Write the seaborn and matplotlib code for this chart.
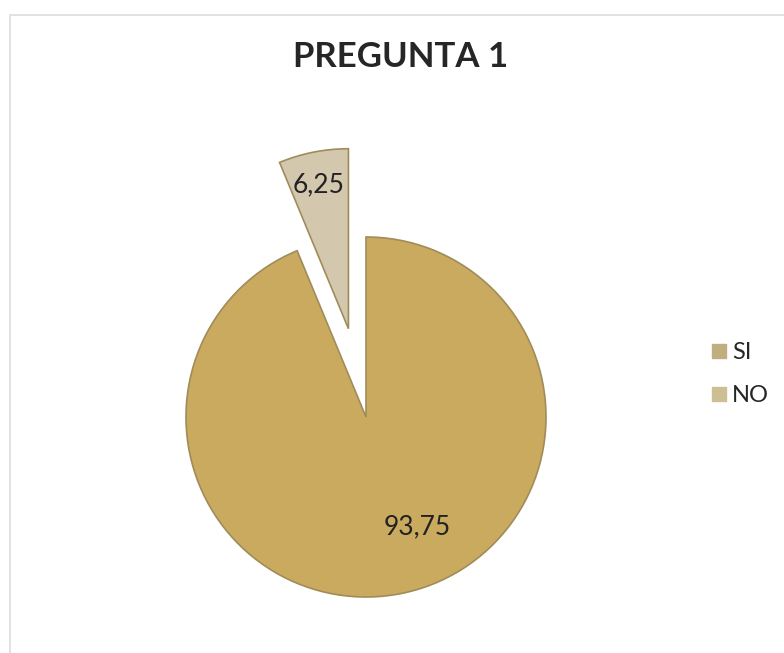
import matplotlib
matplotlib.use("Agg")
import matplotlib.pyplot as plt
from matplotlib.lines import Line2D
from matplotlib.patches import Rectangle
import seaborn as sns

categories = ["SI", "NO"]
values = [93.75, 6.25]
value_labels = ["93,75", "6,25"]

sns.set_theme(style="white")
plt.rcParams['font.family'] = ['Lato', 'DejaVu Sans']

colors = ["#CAAA5E", "#D3C8AD"]
edge = "#A08C5A"

W, H = 784, 653
fig = plt.figure(figsize=(W / 100, H / 100), dpi=100)
fig.patch.set_facecolor("white")

# outer light frame (right and bottom edges fall outside the image)
fig.add_artist(Rectangle((10 / W, -10 / H), (W + 20) / W, (H - 15 + 10) / H,
                         transform=fig.transFigure, fill=False,
                         edgecolor="#DCDCDC", linewidth=1.2))

cx, cy, r = 366, 417, 180
ax = fig.add_axes([0, 0, 1, 1])
wedges, _ = ax.pie(values, colors=colors, startangle=90, counterclock=False,
                   explode=[0, 0.5], radius=1.0,
                   wedgeprops=dict(edgecolor=edge, linewidth=1.2))
ax.set_xlim(-cx / r, (W - cx) / r)
ax.set_ylim(-(H - cy) / r, cy / r)
ax.set_aspect("equal")
ax.axis("off")

# value labels
ax.text(0.285, -0.61, value_labels[0], ha="center", va="center",
        fontsize=19, color="#222222")
ax.text(-0.265, 1.29, value_labels[1], ha="center", va="center",
        fontsize=19, color="#222222")

fig.text(401 / W, 1 - 57 / H, "PREGUNTA 1", ha="center", va="center",
         fontsize=25, fontweight="bold", color="#262626")

handles = [Line2D([0], [0], marker="s", linestyle="none", markersize=10,
                  markerfacecolor=c, markeredgecolor=c) for c in ["#C1AE7E", "#CDBF94"]]
fig.legend(handles, categories, loc="center left",
           bbox_to_anchor=(699 / W, 1 - 374 / H), frameon=False,
           fontsize=17, handlelength=0.7, handletextpad=0.2,
           labelspacing=0.95, borderpad=0)

fig.savefig("out.png", dpi=100, facecolor="white")
